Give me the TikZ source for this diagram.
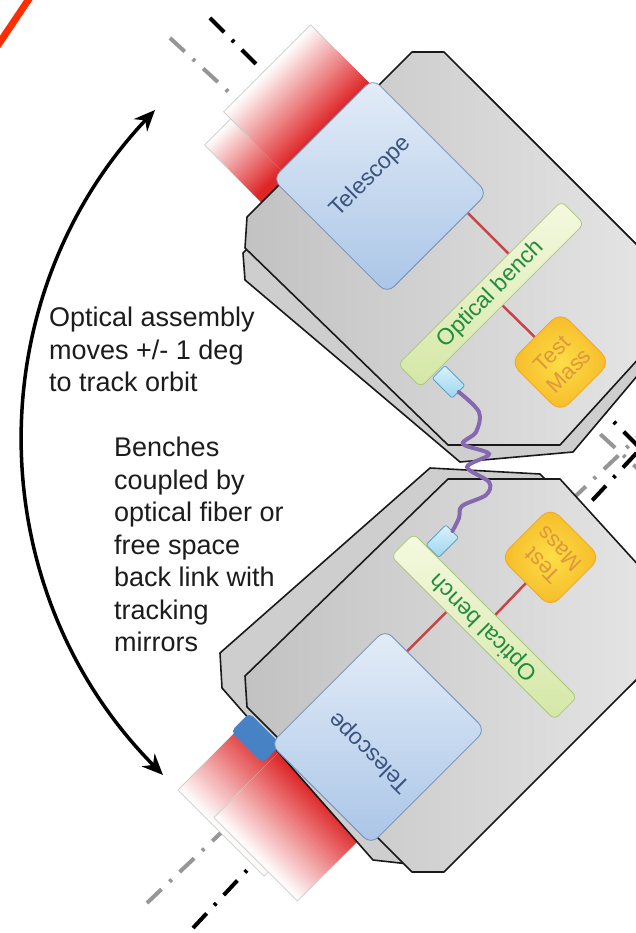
\documentclass[tikz,border=0pt]{standalone}
\usepackage{fontspec}
\setmainfont{Liberation Sans}
\usetikzlibrary{arrows.meta}

\definecolor{cBeam}{RGB}{222,38,40}
\definecolor{cTelA}{RGB}{228,237,248}
\definecolor{cTelB}{RGB}{170,197,231}
\definecolor{cTelEdge}{RGB}{112,142,182}
\definecolor{cTelText}{RGB}{58,84,128}
\definecolor{cBenchA}{RGB}{245,249,224}
\definecolor{cBenchB}{RGB}{212,231,166}
\definecolor{cBenchEdge}{RGB}{172,200,122}
\definecolor{cBenchText}{RGB}{36,140,62}
\definecolor{cMassA}{RGB}{252,222,70}
\definecolor{cMassB}{RGB}{246,186,40}
\definecolor{cMassEdge}{RGB}{238,168,40}
\definecolor{cMassText}{RGB}{226,150,60}
\definecolor{cConA}{RGB}{216,243,251}
\definecolor{cConB}{RGB}{158,212,238}
\definecolor{cConEdge}{RGB}{96,160,200}
\definecolor{cFiber}{RGB}{134,104,176}
\definecolor{cLink}{RGB}{196,70,70}
\definecolor{cPanelA}{RGB}{194,194,194}
\definecolor{cPanelB}{RGB}{232,232,232}
\definecolor{cPanelBack}{RGB}{206,206,206}
\definecolor{cBackTel}{RGB}{70,130,196}
\definecolor{cSlash}{RGB}{255,45,0}
\definecolor{cAxisGray}{RGB}{150,150,150}
\definecolor{cNote}{RGB}{28,28,28}

% one laser beam: fades from white (far end, #1) to red (near end, #2), width #3..#4
\newcommand\beamband[4]{%
  \foreach \k in {0,...,40}{%
    \pgfmathsetmacro\bu{#1+(#2-#1)*\k/40}%
    \pgfmathsetmacro\bp{min(100,\k*2.8)}%
    \fill[cBeam!\bp!white] (\bu,#3) rectangle (#2,#4);%
  }%
  \pgfmathsetmacro\bm{#1+0.4*(#2-#1)}%
  \draw[gray!40, line width=0.7pt] (\bm,#3) -- (#1,#3) -- (#1,#4) -- (\bm,#4);%
}

\tikzset{
  upperframe/.style={shift={(380,186)}, rotate=-45},
  lowerframe/.style={shift={(378,737)}, rotate=45},
  panelline/.style={draw=black!90, line width=1.6pt, line join=round},
  axisline/.style={line width=4pt, dash pattern=on 20pt off 11pt on 3pt off 11pt},
  tsc/.style={draw=cTelEdge, line width=0.8pt, rounded corners=10pt,
    top color=cTelA, bottom color=cTelB,
    minimum width=142pt, minimum height=162pt, inner sep=0pt},
  tlabel/.style={text=cTelText, font=\fontsize{23}{26}\selectfont, inner sep=0pt},
  benchbox/.style={draw=cBenchEdge, line width=0.8pt, rounded corners=6pt,
    top color=cBenchA, bottom color=cBenchB, text=cBenchText,
    font=\fontsize{23}{26}\selectfont,
    minimum width=231pt, minimum height=32pt, inner sep=0pt},
  massbox/.style={draw=cMassEdge, line width=0.8pt, rounded corners=12pt,
    inner color=cMassA, outer color=cMassB, text=cMassText, align=center,
    font=\fontsize{22}{24}\selectfont,
    minimum width=71pt, minimum height=71pt, inner sep=0pt},
  conbox/.style={draw=cConEdge, line width=0.8pt, rounded corners=2pt,
    top color=cConA, bottom color=cConB,
    minimum width=18pt, minimum height=28pt, inner sep=0pt},
  linkline/.style={draw=cLink, line width=2.5pt},
  fiberline/.style={draw=cFiber, line width=4pt, line cap=round},
  notetext/.style={text=cNote, font=\fontsize{27}{32.5}\selectfont,
    align=left, inner sep=0pt, anchor=north west},
  arcarrow/.style={line width=3.5pt, {Stealth[length=21pt,width=18pt]}-{Stealth[length=21pt,width=18pt]}}
}

\begin{document}
\begin{tikzpicture}[x=1pt,y=-1pt]
\useasboundingbox (0,0) rectangle (636,933);
\clip (0,0) rectangle (636,933);
\fill[white] (0,0) rectangle (636,933);

% corner slash
\draw[cSlash, line width=7pt] (-6,51) -- (33,-7);

% optical axes (dash-dot), passing behind both assemblies
\coordinate (axUB0) at (210,18);  \coordinate (axUB1) at (700,508);
\coordinate (axUG0) at (170,38);  \coordinate (axUG1) at (700,526);
\coordinate (axLB0) at (193,928); \coordinate (axLB1) at (700,385);
\coordinate (axLG0) at (147,903); \coordinate (axLG1) at (700,378);
\draw[axisline, black] (axUB0) -- (axUB1);
\draw[axisline, cAxisGray] (axUG0) -- (axUG1);
\draw[axisline, black] (axLB0) -- (axLB1);
\draw[axisline, cAxisGray] (axLG0) -- (axLG1);

% laser beams
\begin{scope}[upperframe]
  \beamband{-153}{-72}{-28}{95}
  \beamband{-163}{-72}{-65}{58}
\end{scope}
\begin{scope}[lowerframe]
  \beamband{-179}{-74}{-104}{18}
  \beamband{-173}{-74}{-59}{59}
\end{scope}

% housings: rear and front plates of each optical assembly
\path[panelline, fill=cPanelBack] (245,280) -- (243,253) -- (420,78) -- (470,78)
  -- (697,305) -- (573,452) -- (460,462) -- cycle;
\path[panelline, left color=cPanelA, right color=cPanelB] (247,217) -- (412,52)
  -- (444,52) -- (692,300) -- (560,445) -- (448,445) -- (245,248) -- cycle;
\path[panelline, fill=cPanelBack] (220,653) -- (430,468) -- (540,474) -- (695,628)
  -- (427,866) -- (373,860) -- (222,688) -- cycle;
\path[panelline, left color=cPanelA, right color=cPanelB] (245,676) -- (448,479)
  -- (560,479) -- (692,624) -- (444,872) -- (412,872) -- (247,707) -- cycle;

% upper assembly
\begin{scope}[upperframe]
  \coordinate (uLinkA) at (60,-43);
  \coordinate (uLinkB) at (150,-43);
  \coordinate (uBenchC) at (155,-2);
  \coordinate (uMassC) at (252,-3);
  \draw[linkline] (uLinkA) -- (uLinkB);
  \draw[linkline] (uBenchC) -- (uMassC);
  \node[tsc, rotate=45] (uTel) at (0,0) {};
  \node[tlabel, rotate=45] (uTelText) at (-13,0) {Telescope};
  \node[benchbox, rotate=45] (uBench) at (uBenchC) {Optical bench};
  \node[conbox, rotate=45] (uCon) at (187,90) {};
  \node[massbox, rotate=45] (uMass) at (uMassC) {Test\\Mass};
\end{scope}

% lower assembly
\begin{scope}[lowerframe]
  \fill[cBackTel, rounded corners=5pt] (-100,-108) rectangle (-74,-63);
  \coordinate (lLinkA) at (60,-40);
  \coordinate (lLinkB) at (148,-40);
  \coordinate (lBenchC) at (153,-3);
  \coordinate (lMassC) at (249,-5);
  \draw[linkline] (lLinkA) -- (lLinkB);
  \draw[linkline] (lBenchC) -- (lMassC);
  \node[tsc, rotate=135] (lTel) at (0,0) {};
  \node[tlabel, rotate=135] (lTelText) at (-16,5) {Telescope};
  \node[benchbox, rotate=135] (lBench) at (lBenchC) {Optical bench};
  \node[conbox, rotate=135] (lCon) at (184,-93) {};
  \node[massbox, rotate=135] (lMass) at (lMassC) {Test\\Mass};
\end{scope}

% fiber between the two benches
\draw[fiberline] plot[smooth, tension=0.55] coordinates {(uCon.south) (479,412) (476,432)
  (463,444) (489,454) (467,467) (489,482) (486,495) (462,506) (459,518) (lCon.south)};

% rotation arrow
\coordinate (arcTop) at (155,110);
\coordinate (arcBot) at (163,775);
\draw[arcarrow] (arcTop) to[bend right=44] (arcBot);

% notes
\node[notetext] (assembly) at (49,307) {Optical assembly\\moves +/- 1 deg\\to track orbit};
\node[notetext] (coupling) at (114,437) {Benches\\coupled by\\optical fiber or\\free space\\back link with\\tracking\\mirrors};
\end{tikzpicture}
\end{document}
